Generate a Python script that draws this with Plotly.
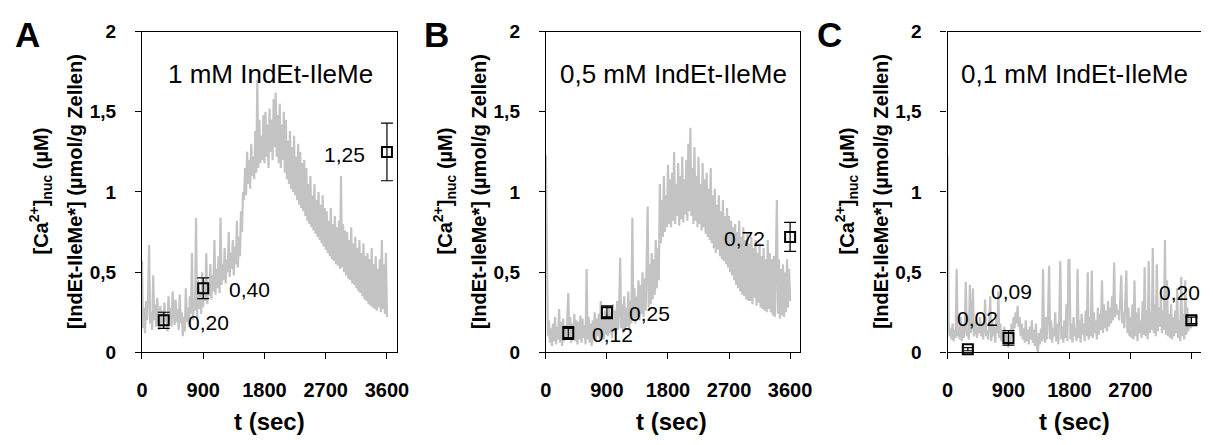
import plotly.graph_objects as go

W, H = 1213, 445

# ---------------- data ----------------
sample_step_s = 15  # seconds between trace samples

ca_A = [
    0.57, 0.15, 0.28, 0.12, 0.32, 0.20, 0.35, 0.67, 0.18, 0.25, 0.14, 0.48, 0.20, 0.30, 0.16, 0.34, 0.22, 0.14, 0.29, 0.18,
    0.26, 0.15, 0.31, 0.19, 0.24, 0.13, 0.35, 0.20, 0.28, 0.16, 0.38, 0.22, 0.17, 0.33, 0.19, 0.27, 0.14, 0.36, 0.18, 0.25,
    0.10, 0.22, 0.13, 0.40, 0.19, 0.28, 0.16, 0.35, 0.24, 0.62, 0.20, 0.33, 0.26, 0.84, 0.22, 0.45, 0.27, 0.38, 0.24, 0.50,
    0.28, 0.45, 0.32, 0.62, 0.30, 0.42, 0.35, 0.55, 0.33, 0.48, 0.38, 0.70, 0.36, 0.52, 0.40, 0.60, 0.37, 0.84, 0.42, 0.55,
    0.45, 0.65, 0.43, 0.58, 0.50, 0.75, 0.47, 0.62, 0.52, 0.70, 0.48, 0.66, 0.55, 0.82, 0.53, 0.72, 0.60, 0.88, 0.75, 1.00,
    0.95, 1.15, 0.98, 1.25, 1.05, 1.20, 1.02, 1.30, 1.10, 1.22, 1.08, 1.38, 1.12, 1.70, 1.15, 1.45, 1.18, 1.35, 1.20, 1.48,
    1.18, 1.50, 1.22, 1.42, 1.15, 1.52, 1.25, 1.45, 1.20, 1.58, 1.28, 1.62, 1.22, 1.48, 1.18, 1.55, 1.15, 1.42, 1.20, 1.50,
    1.12, 1.45, 1.08, 1.32, 1.05, 1.38, 1.02, 1.28, 1.00, 1.35, 0.98, 1.22, 0.95, 1.30, 0.92, 1.25, 0.90, 1.18, 0.88, 1.20,
    0.85, 1.15, 0.82, 1.05, 0.80, 1.10, 0.78, 0.98, 0.76, 1.05, 0.74, 0.95, 0.72, 1.00, 0.70, 0.92, 0.68, 0.98, 0.66, 0.90,
    0.64, 0.88, 0.62, 0.82, 0.60, 0.90, 0.58, 0.80, 0.57, 0.85, 0.55, 0.78, 0.54, 0.82, 0.52, 1.10, 0.53, 0.80, 0.50, 0.76,
    0.48, 0.75, 0.46, 0.70, 0.45, 0.78, 0.43, 0.68, 0.42, 0.72, 0.40, 0.65, 0.38, 0.70, 0.37, 0.62, 0.35, 0.68, 0.33, 0.60,
    0.32, 0.62, 0.30, 0.58, 0.29, 0.65, 0.28, 0.55, 0.27, 0.60, 0.26, 0.52, 0.28, 0.58, 0.25, 0.70, 0.27, 0.55, 0.24, 0.62,
    0.22]

ca_B = [
    1.23, 0.35, 0.10, 0.20, 0.06, 0.15, 0.04, 0.18, 0.07, 0.22, 0.05, 0.16, 0.08, 0.27, 0.06, 0.19, 0.04, 0.21, 0.07, 0.17,
    0.08, 0.20, 0.37, 0.10, 0.22, 0.06, 0.18, 0.09, 0.24, 0.07, 0.20, 0.05, 0.19, 0.08, 0.23, 0.06, 0.21, 0.09, 0.17, 0.05,
    0.52, 0.08, 0.22, 0.06, 0.18, 0.04, 0.20, 0.09, 0.25, 0.07, 0.21, 0.10, 0.24, 0.08, 0.32, 0.10, 0.22, 0.08, 0.26, 0.11,
    0.24, 0.10, 0.28, 0.12, 0.22, 0.09, 0.30, 0.13, 0.26, 0.11, 0.32, 0.14, 0.27, 0.59, 0.15, 0.30, 0.12, 0.35, 0.14, 0.28,
    0.16, 0.38, 0.15, 0.32, 0.18, 0.84, 0.20, 0.40, 0.18, 0.35, 0.22, 0.45, 0.20, 0.42, 0.24, 0.50, 0.22, 0.46, 0.26, 0.55,
    0.91, 0.28, 0.55, 0.30, 0.62, 0.33, 0.58, 0.36, 0.70, 0.40, 0.65, 0.45, 1.05, 0.68, 0.95, 0.72, 1.10, 0.75, 0.98, 0.78,
    1.17, 0.80, 1.08, 0.78, 1.12, 0.82, 1.25, 0.80, 1.05, 0.85, 1.18, 0.79, 1.10, 0.83, 1.22, 0.81, 1.08, 0.86, 1.20, 0.82,
    1.30, 0.88, 1.40, 0.85, 1.15, 0.80, 1.28, 0.82, 1.10, 0.78, 1.22, 0.80, 1.05, 0.76, 1.18, 0.78, 1.08, 0.74, 1.12, 0.72,
    1.02, 0.70, 1.15, 0.68, 0.98, 0.65, 1.02, 0.62, 0.92, 0.64, 0.98, 0.60, 0.88, 0.58, 0.95, 0.57, 0.85, 0.55, 0.90, 0.53,
    0.85, 0.50, 0.82, 0.48, 0.78, 0.45, 0.80, 0.42, 0.75, 0.40, 0.82, 0.38, 0.72, 0.36, 0.78, 0.35, 0.70, 0.33, 0.74, 0.32,
    0.68, 0.32, 0.72, 0.30, 0.65, 0.34, 0.70, 0.29, 0.62, 0.31, 0.68, 0.28, 0.60, 0.27, 0.65, 0.26, 0.58, 0.25, 0.70, 0.27,
    0.62, 0.25, 0.58, 0.23, 0.60, 0.22, 0.55, 0.95, 0.24, 0.58, 0.21, 0.52, 0.23, 0.55, 0.22, 0.50, 0.25, 0.58, 0.28, 0.52,
    0.32]

ca_C = [
    1.22, 0.20, 0.10, 0.15, 0.08, 0.18, 0.07, 0.14, 0.09, 0.52, 0.10, 0.16, 0.08, 0.22, 0.07, 0.18, 0.09, 0.15, 0.44, 0.10,
    0.14, 0.08, 0.42, 0.12, 0.18, 0.40, 0.10, 0.15, 0.20, 0.09, 0.16, 0.12, 0.22, 0.10, 0.18, 0.08, 0.15, 0.33, 0.10, 0.14,
    0.08, 0.18, 0.35, 0.07, 0.20, 0.10, 0.16, 0.06, 0.22, 0.12, 0.38, 0.09, 0.18, 0.07, 0.14, 0.05, 0.16, 0.04, 0.12, 0.06,
    0.03, 0.12, 0.06, 0.18, 0.10, 0.22, 0.15, 0.25, 0.18, 0.29, 0.16, 0.22, 0.10, 0.18, 0.08, 0.15, 0.06, 0.20, 0.07, 0.14,
    0.05, 0.16, 0.08, 0.20, 0.06, 0.14, 0.04, 0.18, 0.03, 0.00, 0.12, 0.05, 0.15, 0.07, 0.52, 0.10, 0.06, 0.22, 0.08, 0.25,
    0.54, 0.08, 0.20, 0.06, 0.15, 0.10, 0.25, 0.07, 0.18, 0.05, 0.22, 0.57, 0.08, 0.16, 0.06, 0.20, 0.09, 0.30, 0.07, 0.57,
    0.58, 0.08, 0.18, 0.06, 0.22, 0.10, 0.15, 0.07, 0.52, 0.09, 0.20, 0.06, 0.24, 0.11, 0.18, 0.07, 0.26, 0.10, 0.50, 0.08,
    0.22, 0.10, 0.51, 0.09, 0.25, 0.12, 0.20, 0.08, 0.28, 0.11, 0.24, 0.14, 0.45, 0.12, 0.30, 0.15, 0.26, 0.13, 0.32, 0.16,
    0.28, 0.18, 0.35, 0.20, 0.56, 0.22, 0.30, 0.24, 0.26, 0.20, 0.32, 0.48, 0.18, 0.25, 0.15, 0.36, 0.51, 0.12, 0.28, 0.10,
    0.22, 0.09, 0.30, 0.08, 0.45, 0.10, 0.25, 0.07, 0.28, 0.12, 0.20, 0.09, 0.32, 0.11, 0.53, 0.10, 0.26, 0.08, 0.57, 0.12,
    0.25, 0.14, 0.65, 0.12, 0.30, 0.10, 0.55, 0.13, 0.28, 0.16, 0.35, 0.12, 0.26, 0.14, 0.70, 0.11, 0.45, 0.10, 0.24, 0.09,
    0.30, 0.08, 0.22, 0.10, 0.26, 0.12, 0.40, 0.09, 0.20, 0.07, 0.47, 0.10, 0.24, 0.08, 0.45, 0.11, 0.28, 0.13, 0.22, 0.16,
    0.15]

# IndEt-IleMe* content (time in s, value, error)
pt_t_A = [320, 900, 3600]
pt_v_A = [0.20, 0.40, 1.25]
pt_e_A = [0.05, 0.065, 0.18]

pt_t_B = [330, 900, 3600]
pt_v_B = [0.12, 0.25, 0.72]
pt_e_B = [0.04, 0.04, 0.09]

pt_t_C = [300, 900, 3600]
pt_v_C = [0.02, 0.09, 0.20]
pt_e_C = [0.01, 0.045, 0.02]

panel_letters = ["A", "B", "C"]
panel_titles = ["1 mM IndEt-IleMe", "0,5 mM IndEt-IleMe", "0,1 mM IndEt-IleMe"]

x_tick_vals = [0, 900, 1800, 2700, 3600]
x_tick_text_AB = ["0", "900", "1800", "2700", "3600"]
x_tick_text_C = ["0", "900", "1800", "2700", ""]
y_tick_vals = [0, 0.5, 1, 1.5, 2]
y_tick_text = ["0", "0,5", "1", "1,5", "2"]

# ---------------- layout geometry (pixels) ----------------
panel_px = [(138, 396.5), (548, 805.7), (955.7, 1213)]
y_top_px, y_bot_px = 22.7, 359.3
x_max = 3742

# label offsets (px) relative to the marker: (xshift, yshift)
label_offsets = [
    [(45, -2), (46, -1), (-42, -3)],
    [(44, -1), (43, -1), (-46, -2)],
    [(10, 31), (3, 46), (-12, 28)],
]

FONT = "Liberation Sans, Arial, sans-serif"
GRAY = "#c3c3c3"

fig = go.Figure()
annotations = []
layout_axes = {}

traces = [ca_A, ca_B, ca_C]
pts = [(pt_t_A, pt_v_A, pt_e_A), (pt_t_B, pt_v_B, pt_e_B), (pt_t_C, pt_v_C, pt_e_C)]

for i in range(3):
    sfx = "" if i == 0 else str(i + 1)
    xa, ya = "x" + sfx, "y" + sfx
    vals = traces[i]
    t = [k * sample_step_s for k in range(len(vals))]
    fig.add_trace(go.Scatter(x=t, y=vals, mode="lines", xaxis=xa, yaxis=ya,
                             line=dict(color=GRAY, width=2.2), showlegend=False,
                             hoverinfo="skip"))
    pt_t, pt_v, pt_e = pts[i]
    fig.add_trace(go.Scatter(x=pt_t, y=pt_v, mode="markers", xaxis=xa, yaxis=ya,
                             marker=dict(symbol="square-open", size=10, color="black",
                                         line=dict(width=2, color="black")),
                             error_y=dict(type="data", array=pt_e, color="black",
                                          thickness=1.2, width=6),
                             showlegend=False, cliponaxis=False))

    x0, x1 = panel_px[i]
    layout_axes["xaxis" + sfx] = dict(
        domain=[x0 / W, min(1.0, x1 / W)], range=[0, x_max], anchor=ya,
        tickvals=x_tick_vals,
        ticktext=x_tick_text_C if i == 2 else x_tick_text_AB,
        ticks="outside", ticklen=6, tickwidth=1.2, tickcolor="black",
        showline=True, linecolor="black", linewidth=1.2, mirror=True,
        showgrid=False, zeroline=False,
        tickfont=dict(family=FONT, size=20, color="black", weight="bold"),
        ticklabelstandoff=14,
    )
    layout_axes["yaxis" + sfx] = dict(
        domain=[1 - y_bot_px / H, 1 - y_top_px / H], range=[0, 2], anchor=xa,
        tickvals=y_tick_vals, ticktext=y_tick_text,
        ticks="outside", ticklen=6, tickwidth=1.2, tickcolor="black",
        showline=True, linecolor="black", linewidth=1.2,
        mirror=(i != 2),
        showgrid=False, zeroline=False,
        tickfont=dict(family=FONT, size=19, color="black", weight="bold"),
        ticklabelstandoff=15,
    )

    # value labels next to the markers
    for (tt, vv), (dx, dy) in zip(zip(pt_t, pt_v), label_offsets[i]):
        annotations.append(dict(
            x=tt, y=vv, xref=xa, yref=ya, showarrow=False,
            text=f"{vv:.2f}".replace(".", ","), xshift=dx, yshift=dy,
            font=dict(family=FONT, size=21, color="black"),
            xanchor="center", yanchor="middle"))

    # panel title inside the plot
    annotations.append(dict(
        x=[268, 677.5, 1084.5][i] / W, y=1 - 67 / H, xref="paper", yref="paper",
        showarrow=False, text=panel_titles[i],
        font=dict(family=FONT, size=26, color="black"),
        xanchor="center", yanchor="middle"))
    # panel letter
    annotations.append(dict(
        x=[22, 437, 836][i] / W, y=1 - 26 / H, xref="paper", yref="paper",
        showarrow=False, text=panel_letters[i],
        font=dict(family=FONT, size=35, color="black", weight="bold"),
        xanchor="center", yanchor="middle"))
    # x axis title
    annotations.append(dict(
        x=[267, 676, 1085][i] / W, y=1 - 432 / H, xref="paper", yref="paper",
        showarrow=False, text="t (sec)",
        font=dict(family=FONT, size=24, color="black", weight="bold"),
        xanchor="center", yanchor="middle"))
    # y axis titles (two lines)
    yc = 1 - 190 / H
    annotations.append(dict(
        x=[35, 445, 853][i] / W, y=yc, xref="paper", yref="paper",
        showarrow=False, textangle=-90,
        text="[Ca<sup>2+</sup>]<sub>nuc</sub> (µM)",
        font=dict(family=FONT, size=20, color="black", weight="bold"),
        xanchor="center", yanchor="middle"))
    annotations.append(dict(
        x=[70, 480, 888][i] / W, y=yc, xref="paper", yref="paper",
        showarrow=False, textangle=-90,
        text="[IndEt-IleMe*] (µmol/g Zellen)",
        font=dict(family=FONT, size=20, color="black", weight="bold"),
        xanchor="center", yanchor="middle"))

fig.update_layout(
    width=W, height=H,
    margin=dict(l=0, r=0, t=0, b=0),
    paper_bgcolor="white", plot_bgcolor="white",
    separators=", ",
    annotations=annotations,
    **layout_axes,
)

fig.write_html("out.html")
